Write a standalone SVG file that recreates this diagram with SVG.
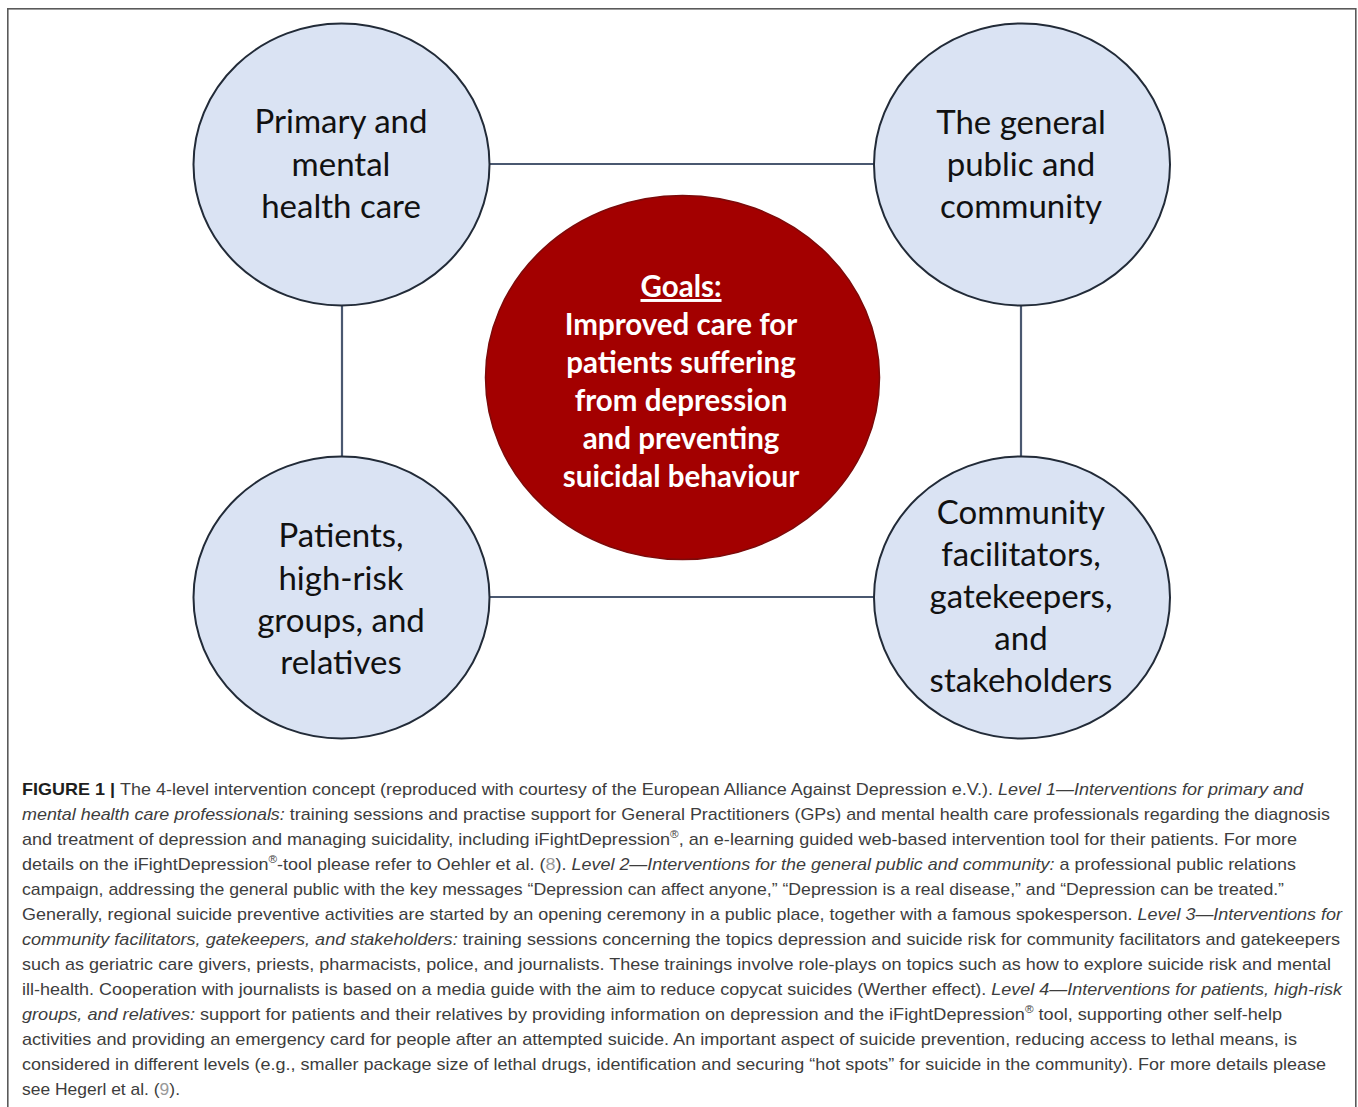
<svg xmlns="http://www.w3.org/2000/svg" width="1358" height="1107" viewBox="0 0 1358 1107">
  <style>
    .frame { fill: #ffffff; stroke: #5a5a5a; stroke-width: 1.6; }
    .level { fill: #dae3f3; stroke: #222b38; stroke-width: 2; }
    .goal { fill: #a30000; stroke: #7c0a0a; stroke-width: 1.5; }
    .link { stroke: #4a5870; stroke-width: 2.2; fill: none; }
    .lbl { font-family: Lato, "Open Sans", sans-serif; font-size: 33px; fill: #111111; text-anchor: middle; }
    .glbl { font-family: Lato, "Open Sans", sans-serif; font-size: 29.5px; font-weight: 700; fill: #ffffff; text-anchor: middle; }
    .cap { font-family: "Liberation Sans", Arial, sans-serif; font-size: 17px; fill: #3d3d3d; }
    .b { font-weight: 700; fill: #1e1e1e; }
    .i { font-style: italic; }
    .ref { fill: #9a9a9a; }
    .sup { font-size: 11px; }
  </style>

  <!-- figure frame -->
  <rect class="frame" x="7.8" y="8.8" width="1348" height="1120"/>

  <!-- connectors between the four levels -->
  <g id="connectors">
    <line class="link" x1="489" y1="164" x2="875" y2="164"/>
    <line class="link" x1="489" y1="597" x2="875" y2="597"/>
    <line class="link" x1="342" y1="305" x2="342" y2="457"/>
    <line class="link" x1="1021" y1="305" x2="1021" y2="457"/>
  </g>

  <g id="level1">
    <ellipse class="level" cx="341.5" cy="164.5" rx="148" ry="141"/>
    <text class="lbl" x="341" y="133">Primary and</text>
    <text class="lbl" x="341" y="176">mental</text>
    <text class="lbl" x="341" y="218">health care</text>
  </g>

  <g id="level2">
    <ellipse class="level" cx="1022" cy="164.5" rx="148" ry="141"/>
    <text class="lbl" x="1021" y="134">The general</text>
    <text class="lbl" x="1021" y="176">public and</text>
    <text class="lbl" x="1021" y="218">community</text>
  </g>

  <g id="level4">
    <ellipse class="level" cx="341.5" cy="597.5" rx="148" ry="141"/>
    <text class="lbl" x="341" y="547">Patients,</text>
    <text class="lbl" x="341" y="590">high-risk</text>
    <text class="lbl" x="341" y="632">groups, and</text>
    <text class="lbl" x="341" y="674">relatives</text>
  </g>

  <g id="level3">
    <ellipse class="level" cx="1022" cy="597.5" rx="148" ry="141"/>
    <text class="lbl" x="1021" y="524">Community</text>
    <text class="lbl" x="1021" y="566">facilitators,</text>
    <text class="lbl" x="1021" y="608">gatekeepers,</text>
    <text class="lbl" x="1021" y="650">and</text>
    <text class="lbl" x="1021" y="692">stakeholders</text>
  </g>

  <g id="goals">
    <ellipse class="goal" cx="682.5" cy="377.5" rx="197" ry="182"/>
    <text class="glbl" x="681" y="297" text-decoration="underline">Goals:</text>
    <text class="glbl" x="681" y="335">Improved care for</text>
    <text class="glbl" x="681" y="373">patients suffering</text>
    <text class="glbl" x="681" y="411">from depression</text>
    <text class="glbl" x="681" y="449">and preventing</text>
    <text class="glbl" x="681" y="487">suicidal behaviour</text>
  </g>

  <!-- caption -->
  <g id="caption" class="cap">
    <text x="22" y="795" textLength="1281" lengthAdjust="spacingAndGlyphs"><tspan class="b">FIGURE 1 | </tspan>The 4-level intervention concept (reproduced with courtesy of the European Alliance Against Depression e.V.). <tspan class="i">Level 1—Interventions for primary and</tspan></text>
    <text x="22" y="820" textLength="1308" lengthAdjust="spacingAndGlyphs"><tspan class="i">mental health care professionals:</tspan> training sessions and practise support for General Practitioners (GPs) and mental health care professionals regarding the diagnosis</text>
    <text x="22" y="845" textLength="1275" lengthAdjust="spacingAndGlyphs">and treatment of depression and managing suicidality, including iFightDepression<tspan class="sup" dy="-7">®</tspan><tspan dy="7">, an e-learning guided web-based intervention tool for their patients. For more</tspan></text>
    <text x="22" y="870" textLength="1274" lengthAdjust="spacingAndGlyphs">details on the iFightDepression<tspan class="sup" dy="-7">®</tspan><tspan dy="7">-tool please refer to Oehler et al. (</tspan><tspan class="ref">8</tspan>). <tspan class="i">Level 2—Interventions for the general public and community:</tspan> a professional public relations</text>
    <text x="22" y="895" textLength="1262" lengthAdjust="spacingAndGlyphs">campaign, addressing the general public with the key messages “Depression can affect anyone,” “Depression is a real disease,” and “Depression can be treated.”</text>
    <text x="22" y="920" textLength="1320" lengthAdjust="spacingAndGlyphs">Generally, regional suicide preventive activities are started by an opening ceremony in a public place, together with a famous spokesperson. <tspan class="i">Level 3—Interventions for</tspan></text>
    <text x="22" y="945" textLength="1318" lengthAdjust="spacingAndGlyphs"><tspan class="i">community facilitators, gatekeepers, and stakeholders:</tspan> training sessions concerning the topics depression and suicide risk for community facilitators and gatekeepers</text>
    <text x="22" y="970" textLength="1309" lengthAdjust="spacingAndGlyphs">such as geriatric care givers, priests, pharmacists, police, and journalists. These trainings involve role-plays on topics such as how to explore suicide risk and mental</text>
    <text x="22" y="995" textLength="1320" lengthAdjust="spacingAndGlyphs">ill-health. Cooperation with journalists is based on a media guide with the aim to reduce copycat suicides (Werther effect). <tspan class="i">Level 4—Interventions for patients, high-risk</tspan></text>
    <text x="22" y="1020" textLength="1260" lengthAdjust="spacingAndGlyphs"><tspan class="i">groups, and relatives:</tspan> support for patients and their relatives by providing information on depression and the iFightDepression<tspan class="sup" dy="-7">®</tspan><tspan dy="7"> tool, supporting other self-help</tspan></text>
    <text x="22" y="1045" textLength="1275" lengthAdjust="spacingAndGlyphs">activities and providing an emergency card for people after an attempted suicide. An important aspect of suicide prevention, reducing access to lethal means, is</text>
    <text x="22" y="1070" textLength="1304" lengthAdjust="spacingAndGlyphs">considered in different levels (e.g., smaller package size of lethal drugs, identification and securing “hot spots” for suicide in the community). For more details please</text>
    <text x="22" y="1095" textLength="158" lengthAdjust="spacingAndGlyphs">see Hegerl et al. (<tspan class="ref">9</tspan>).</text>
  </g>
</svg>
